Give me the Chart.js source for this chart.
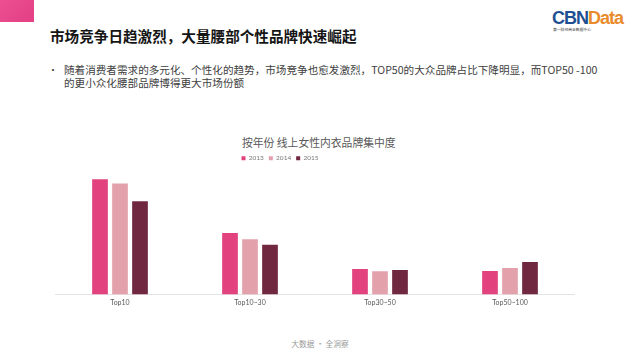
<!DOCTYPE html>
<html>
<head>
<meta charset="utf-8">
<script src="https://cdn.jsdelivr.net/npm/chart.js@4.4.0/dist/chart.umd.min.js"></script>
<style>
  html, body { margin: 0; padding: 0; background: #fff; overflow: hidden; }
  body { width: 640px; height: 360px; position: relative; font-family: "Noto Sans CJK SC", "Noto Sans", sans-serif; }
  .abs { position: absolute; white-space: nowrap; }
  #corner { left: 0; top: 0; width: 34px; height: 22px; background: linear-gradient(135deg, #ec4f92, #e33f84); }
  #title { left: 50px; top: 26px; font-size: 14.6px; line-height: 20px; font-weight: bold; color: #151515; }
  #bullet { left: 48px; top: 63px; font-size: 10px; line-height: 13px; color: #404040; }
  #body { left: 64px; top: 63px; font-size: 10.6px; line-height: 13px; color: #404040; }
  #ctitle { left: 242px; top: 135px; font-size: 10.8px; line-height: 14px; color: #595959; }
  #footer { left: 0; width: 640px; top: 338px; text-align: center; font-size: 7.7px; line-height: 12px; color: #9a9a9a; }
  #logo { left: 552px; top: 8px; font-family: "Liberation Sans", Arial, sans-serif; font-weight: bold; font-size: 18px; line-height: 20px; letter-spacing: -1px; }
  #logo .cbn { color: #1d4f92; }
  #logo .data { color: #e98b2b; }
  #tag { left: 553px; top: 27px; font-size: 3.8px; line-height: 5px; color: #333; }
  #wrap { position: absolute; left: -15px; top: 150px; width: 590px; height: 161px; }
</style>
</head>
<body>
<div id="corner" class="abs"></div>
<div id="title" class="abs">市场竞争日趋激烈，大量腰部个性品牌快速崛起</div>
<div id="bullet" class="abs">•</div>
<div id="body" class="abs">随着消费者需求的多元化、个性化的趋势，市场竞争也愈发激烈，TOP50的大众品牌占比下降明显，而TOP50 -100<br>的更小众化腰部品牌博得更大市场份额</div>
<div id="logo" class="abs"><span class="cbn">CBN</span><span class="data">Data</span></div>
<div id="tag" class="abs">第一财经商业数据中心</div>
<div id="ctitle" class="abs">按年份 线上女性内衣品牌集中度</div>
<div id="wrap"><canvas id="barChart" width="590" height="161"></canvas></div>
<div id="footer" class="abs">大数据 · 全洞察</div>

<script>
// data
const categories = ['Top10', 'Top10~30', 'Top30~50', 'Top50~100'];
const years = ['2013', '2014', '2015'];
const values2013 = [35.6, 19.0, 7.9, 7.3];
const values2014 = [34.3, 17.1, 7.2, 8.2];
const values2015 = [28.8, 15.4, 7.6, 10.1];
const colors = ['#e2437f', '#e3a1ab', '#6f283f'];

const seriesValues = [values2013, values2014, values2015];

// config
const barChartConfig = {
    type: 'bar',
    data: {
        labels: categories,
        datasets: years.map((year, i) => ({
            label: year,
            data: seriesValues[i],
            backgroundColor: colors[i],
            borderWidth: 0,
            categoryPercentage: 0.4615,
            barPercentage: 0.785,
        }))
    },
    options: {
        responsive: false,
        animation: false,
        layout: { padding: 0 },
        plugins: {
            legend: {
                display: true,
                position: 'top',
                labels: {
                    boxWidth: 4,
                    boxHeight: 4,
                    padding: 5,
                    color: '#777',
                    font: { size: 6.5, family: 'Lato, "Noto Sans", sans-serif' },
                },
            },
            tooltip: { enabled: false },
        },
        scales: {
            x: {
                grid: { display: true, drawOnChartArea: false, drawTicks: false },
                border: { display: true, color: '#e4e4e4', width: 1 },
                ticks: {
                    color: '#595959',
                    padding: 4,
                    font: { size: 7, family: 'Lato, "Noto Sans", sans-serif' },
                },
            },
            y: {
                min: 0,
                max: 38,
                grid: { display: false },
                border: { display: false },
                ticks: { display: false },
                afterFit: (scale) => { scale.width = 70; },
            }
        }
    }
};

// render
const barChart = new Chart(document.getElementById('barChart'), barChartConfig);
</script>
</body>
</html>
